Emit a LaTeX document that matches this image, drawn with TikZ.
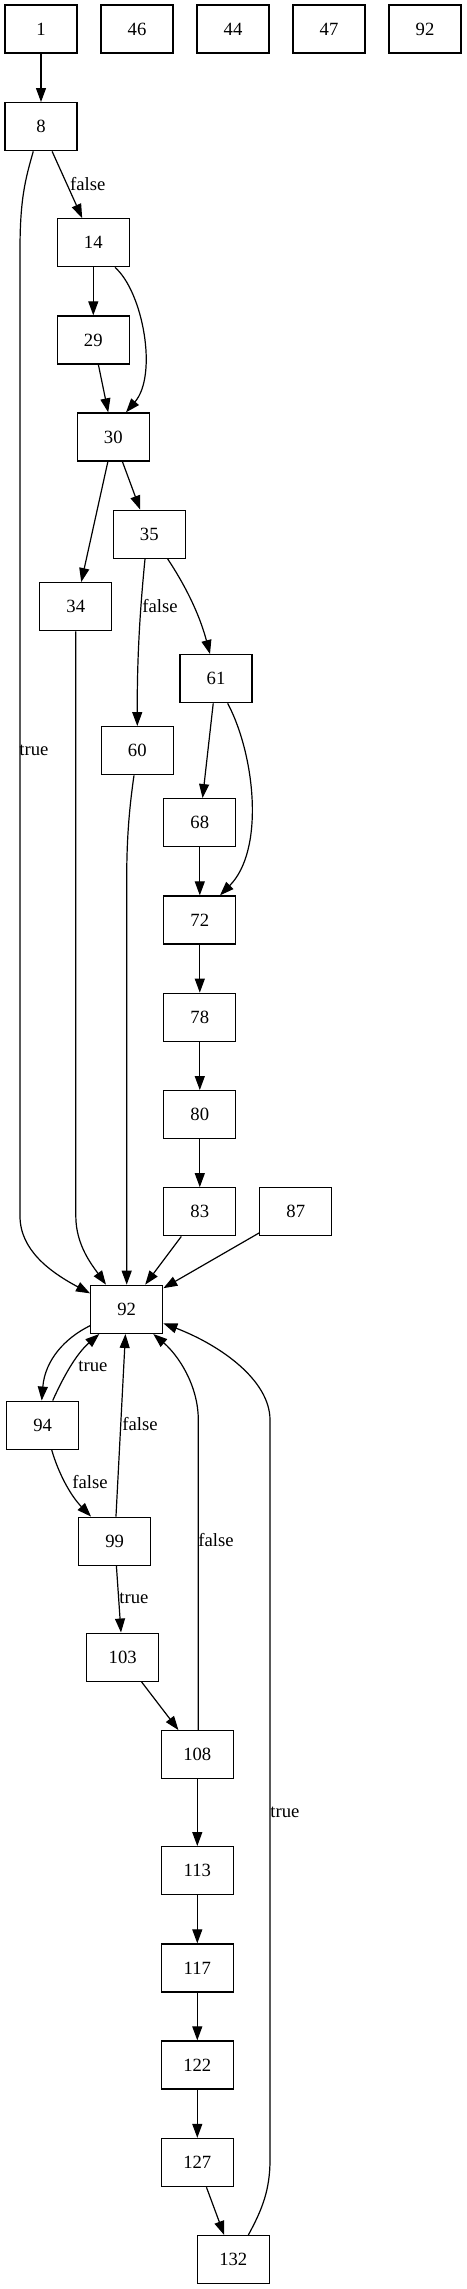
\documentclass[tikz,border=0pt]{standalone}
\usepackage{fontspec}
\setmainfont{Liberation Serif}
\usetikzlibrary{arrows.meta,calc}
\begin{document}
\begin{tikzpicture}[x=0.75pt,y=-0.75pt,
  box/.style={draw, rectangle, minimum width=54pt, minimum height=36pt, inner sep=0pt, font=\fontsize{14}{16}\selectfont, line width=1pt},
  edge/.style={-{Triangle[length=10.5pt,width=7.5pt]}, line width=0.9pt},
  lbl/.style={font=\fontsize{14}{16}\selectfont, inner sep=0pt}]
\useasboundingbox (0,0) rectangle (467,2289);
% nodes
\node[box] (n1)   at (41,29) {1};
\node[box] (n46)  at (137,29) {46};
\node[box] (n44)  at (233,29) {44};
\node[box] (n47)  at (329,29) {47};
\node[box] (n92a) at (425,29) {92};
\node[box] (n8)   at (41,126.7) {8};
\node[box] (n14)  at (93.3,242.7) {14};
\node[box] (n29)  at (93.3,340) {29};
\node[box] (n30)  at (113.3,437) {30};
\node[box] (n35)  at (149.3,534.3) {35};
\node[box] (n34)  at (75.8,606.7) {34};
\node[box] (n61)  at (216,678.7) {61};
\node[box] (n60)  at (137.3,750.7) {60};
\node[box] (n68)  at (199.8,822.7) {68};
\node[box] (n72)  at (199.8,920) {72};
\node[box] (n78)  at (199.8,1017.3) {78};
\node[box] (n80)  at (199.8,1114.7) {80};
\node[box] (n83)  at (199.8,1211.8) {83};
\node[box] (n87)  at (295.8,1211.8) {87};
\node[box] (n92)  at (126.7,1309.3) {92};
\node[box] (n94)  at (42.7,1425.2) {94};
\node[box] (n99)  at (114.7,1541.2) {99};
\node[box] (n103) at (122.7,1657.2) {103};
\node[box] (n108) at (197.3,1754.7) {108};
\node[box] (n113) at (197.3,1870.7) {113};
\node[box] (n117) at (197.3,1968) {117};
\node[box] (n122) at (197.3,2065) {122};
\node[box] (n127) at (197.3,2162.5) {127};
\node[box] (n132) at (233.3,2259.7) {132};
% labels
\node[lbl] (l1) at (87.7,184) {false};
\node[lbl] (l2) at (34,750) {true};
\node[lbl] (l3) at (160,605.7) {false};
\node[lbl] (l4) at (93,1366) {true};
\node[lbl] (l5) at (140,1424) {false};
\node[lbl] (l6) at (90,1481.7) {false};
\node[lbl] (l7) at (134,1598.3) {true};
\node[lbl] (l8) at (216,1540) {false};
\node[lbl] (l9) at (285,1812.3) {true};
% edges
\draw[edge] (n1) -- (n8);
\draw[edge] ($(n8.south)+(-7.7,0)$) .. controls (25,180) and (20,200) .. (20,250)
  -- (20,1216) .. controls (20,1250) and (50,1272) .. ($(n92.north west)+(0,8.7)$);
\draw[edge] (n8) -- (n14);
\draw[edge] (n14) -- (n29);
\draw[edge] ($(n14.south)+(21.7,0)$) .. controls (143,292) and (158,375) .. ($(n30.north)+(12.7,0)$);
\draw[edge] (n29) -- (n30);
\draw[edge] (n30) -- (n34);
\draw[edge] (n30) -- (n35);
\draw[edge] (n34.south) -- (75.8,1216) .. controls (75.8,1245) and (92,1265) .. ($(n92.north)+(-20.7,0)$);
\draw[edge] ($(n35.south)+(-4.3,0)$) .. controls (141,600) and (137,650) .. (n60.north);
\draw[edge] ($(n35.south)+(18.4,0)$) .. controls (177,573) and (197,605) .. ($(n61.north)+(-6,0)$);
\draw[edge] (n61) -- (n68);
\draw[edge] ($(n61.south)+(11.7,0)$) .. controls (255,755) and (265,850) .. ($(n72.north)+(20.2,0)$);
\draw[edge] ($(n60.south)+(-3.3,0)$) .. controls (129,810) and (126.7,840) .. (126.7,880) -- (n92.north);
\draw[edge] (n68) -- (n72);
\draw[edge] (n72) -- (n78);
\draw[edge] (n78) -- (n80);
\draw[edge] (n80) -- (n83);
\draw[edge] (n83) -- (n92);
\draw[edge] (n87) -- (n92);
\draw[edge] ($(n92.west)+(0,16.4)$) .. controls (65,1338) and (45,1360) .. ($(n94.north)+(-1,0)$);
\draw[edge] ($(n94.north)+(10,0)$) .. controls (62,1380) and (75,1355) .. ($(n92.south)+(-27.4,0)$);
\draw[edge] (n99) -- (n92);
\draw[edge] ($(n94.south)+(9,0)$) .. controls (58,1472) and (70,1495) .. ($(n99.north west)+(13,0)$);
\draw[edge] (n99) -- (n103);
\draw[edge] (n103) -- (n108);
\draw[edge] ($(n108.north)+(1,0)$) -- (198.3,1420) .. controls (198.3,1385) and (178,1355) .. ($(n92.south)+(26.6,0)$);
\draw[edge] (n108) -- (n113);
\draw[edge] (n113) -- (n117);
\draw[edge] (n117) -- (n122);
\draw[edge] (n122) -- (n127);
\draw[edge] (n127) -- (n132);
\draw[edge] ($(n132.north)+(15,0)$) .. controls (262,2210) and (270,2190) .. (270,2160)
  -- (270,1420) .. controls (270,1380) and (220,1345) .. ($(n92.east)+(0,14)$);
\end{tikzpicture}
\end{document}
